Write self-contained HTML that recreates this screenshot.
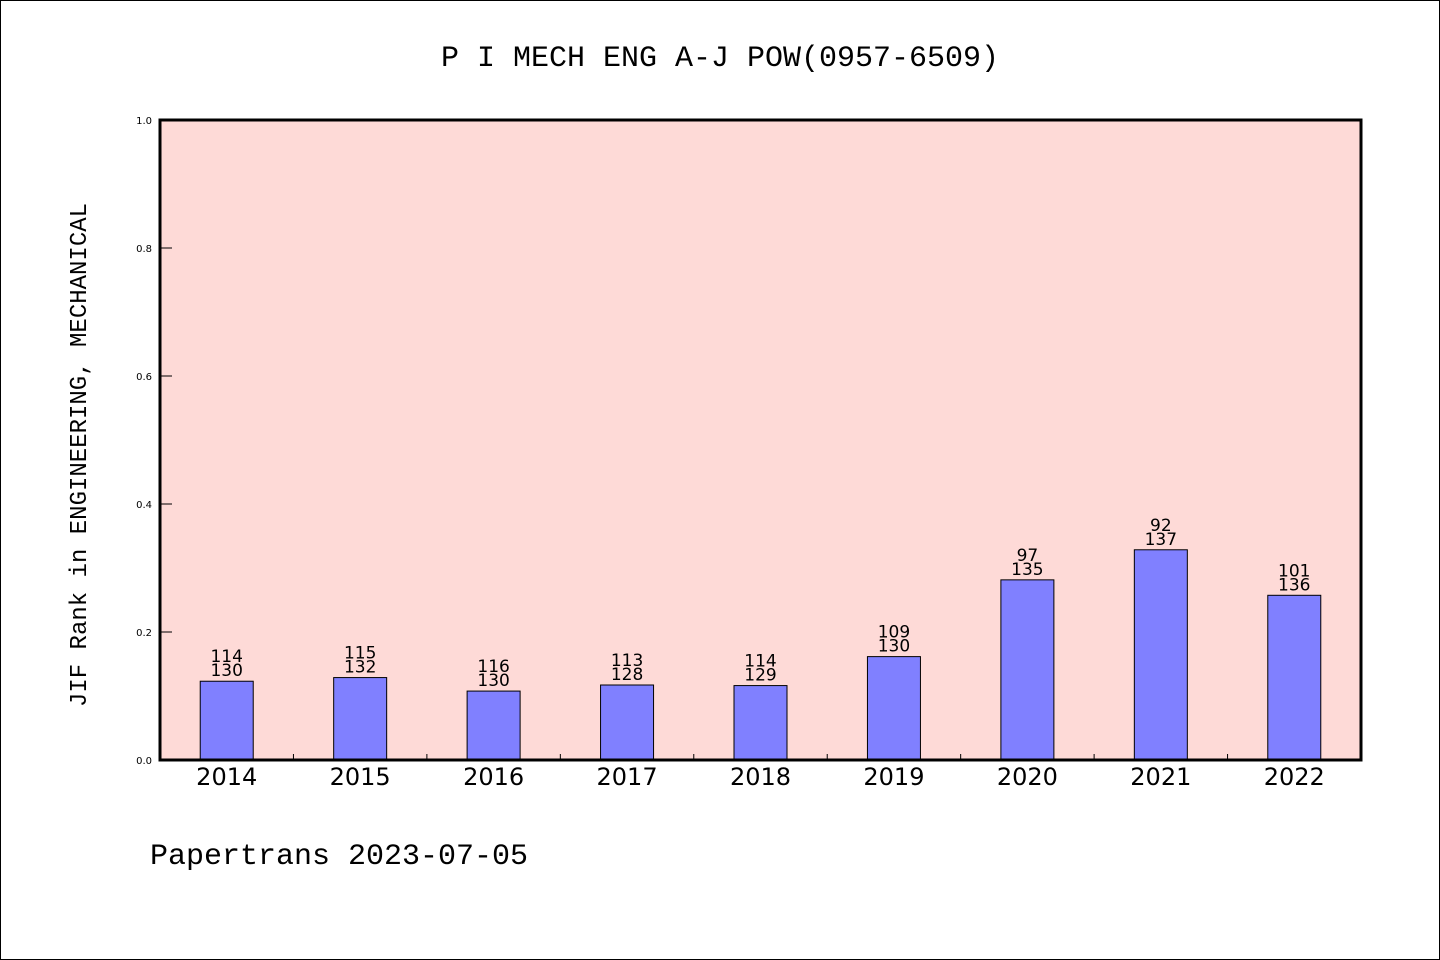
<!DOCTYPE html>
<html><head><meta charset="utf-8"><style>
html,body{margin:0;padding:0;background:#fff}
svg{display:block}
text{font-family:"DejaVu Sans","Liberation Sans",sans-serif}
.mono{font-family:"Liberation Mono","DejaVu Sans Mono",monospace}
</style></head><body>
<svg id="chart" width="1440" height="960" viewBox="0 0 1440 960">
<rect x="0.5" y="0.5" width="1439" height="959" fill="#fff" stroke="#000"/>
<text class="mono" x="720" y="66" font-size="30" text-anchor="middle">P I MECH ENG A-J POW(0957-6509)</text>
<rect x="160" y="120" width="1201" height="640" fill="#fedad7"/>
<g id="bars"></g>
<g id="axes"></g>
<rect x="160" y="120" width="1201" height="640" fill="none" stroke="#000" stroke-width="3"/>
<text class="mono" transform="translate(86,455) rotate(-90)" font-size="24" text-anchor="middle">JIF Rank in ENGINEERING, MECHANICAL</text>
<text class="mono" x="150" y="864" font-size="30">Papertrans 2023-07-05</text>
</svg>
<script>
const years=["2014","2015","2016","2017","2018","2019","2020","2021","2022"];
const ranks=[114,115,116,113,114,109,97,92,101];
const totals=[130,132,130,128,129,130,135,137,136];
const yTicks=[0,0.2,0.4,0.6,0.8,1.0];
const NS="http://www.w3.org/2000/svg";
const X0=160,X1=1361,Y0=760,Y1=120;
const step=(X1-X0)/years.length;
const xc=i=>X0+step*(i+0.5);
const ys=v=>Y0-(Y0-Y1)*v;
function mk(t,a,p){const e=document.createElementNS(NS,t);for(const k in a)e.setAttribute(k,a[k]);p.appendChild(e);return e;}
const bars=document.getElementById('bars'),axes=document.getElementById('axes');
years.forEach((y,i)=>{
 const v=1-ranks[i]/totals[i];
 const r=mk('rect',{x:xc(i)-26.5,y:ys(v),width:53,height:Y0-ys(v),fill:'#8080ff',stroke:'#000','stroke-width':1},bars);
 
 
 const t1=mk('text',{x:xc(i),y:ys(v)-19,'font-size':17,'text-anchor':'middle'},bars);t1.textContent=ranks[i];
 
 
 const t2=mk('text',{x:xc(i),y:ys(v)-5,'font-size':17,'text-anchor':'middle'},bars);t2.textContent=totals[i];
 
 
 const xl=mk('text',{x:xc(i),y:785,'font-size':24,'text-anchor':'middle'},axes);xl.textContent=y;
 
 
 if(i>0){const tk=mk('line',{x1:X0+step*i,x2:X0+step*i,y1:Y0,y2:Y0-6,stroke:'#000'},axes);
 
 }
});
yTicks.forEach(v=>{
 const tk=mk('line',{x1:X0,x2:X0+12,y1:ys(v),y2:ys(v),stroke:'#000'},axes);
 
 
 const t=mk('text',{x:152,y:ys(v)+4,'font-size':10,'text-anchor':'end'},axes);t.textContent=v.toFixed(1);
 
 
});
</script>
</body></html>
